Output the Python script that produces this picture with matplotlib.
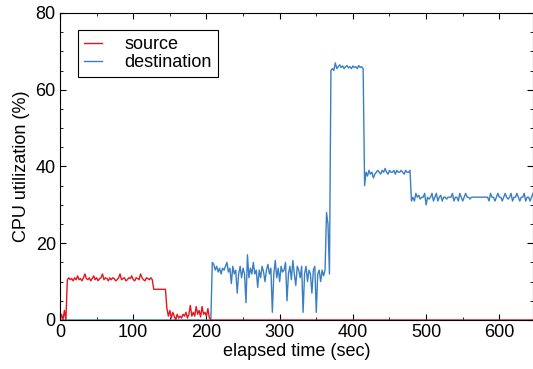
import numpy as np
import matplotlib
matplotlib.use("Agg")
import matplotlib.pyplot as plt
from matplotlib.ticker import MultipleLocator

plt.rcParams['font.family'] = ['Liberation Sans', 'DejaVu Sans']
plt.rcParams['font.size'] = 13

SAMPLE_SEC = 2  # one sample every 2 seconds

# source host CPU (%)
source_cpu = (
    [0, 1.5, 0, 2.5, 0]
    + [10.5, 11, 10.5, 10.8, 10.2, 11, 10.5, 11.5, 10.5, 10.8, 10.2, 11, 12, 10.8, 10.5,
       11, 10.2, 10.8, 11.5, 10.5, 11, 10.2, 10.8, 11, 12, 10.5, 11, 10.8, 10.2, 11,
       10.5, 11, 10.8, 10.2, 10.5, 11, 12, 10.5, 10.8, 11, 10.2, 10.5, 11, 10.8, 11.5,
       10.5, 10.2, 11, 10.8, 10.5, 12, 11, 10.5, 10.2, 11, 10.8, 10.5, 11, 10.5]
    + [8, 8, 8, 8, 8, 8, 8, 8, 8]
    + [3, 1, 2.5, 0.5, 2, 1, 0, 1.5, 0.5, 1, 0.5, 1.5, 1, 2, 0.5, 1.5, 3.8, 1, 2, 1,
       3.5, 1.5, 2.5, 0.8, 3.5, 1.5, 2, 1, 3, 0.5]
    + [0] * 221
)

# destination host CPU (%)
dest_cpu = (
    [0] * 104
    + [15, 14.5, 13, 14, 12.5, 13.5, 12, 13.5, 13, 14, 15, 12.5, 13.5, 9.5, 14, 12, 13, 7,
       12, 14, 11, 13.5, 12, 4.5, 17, 11, 13.5, 12, 15, 12, 13, 8.5, 13, 11, 14, 12.5,
       10, 13, 14.5, 12, 13.5, 2, 12, 15.5, 11, 13.5, 10, 14, 12.5, 13, 15, 5, 12, 14,
       10.5, 15.5, 12, 9, 14, 13, 11, 14, 2, 12, 14, 10, 13, 12, 7, 13, 14, 2, 12, 13,
       10, 13, 11.5, 13]
    + [28, 25, 12]
    + [65, 65.5, 65, 67, 65.5, 66, 66.5, 65.8, 66.2, 65.5, 66, 66.3, 65.7, 66, 65.5,
       66.2, 65.8, 66, 65.5, 66.3, 65.8, 66, 65.5]
    + [35]
    + [38.5, 37.5, 39, 38, 38.5, 37, 38, 38.5, 39, 38.5, 38, 39, 38.5, 39.5, 38.5, 38,
       39, 38.5, 38.5, 39, 38, 39, 38.5, 38.5, 39, 38.5, 38, 39, 38.5, 38.5, 39]
    + [31, 32, 31, 33, 32, 32.5, 31.5, 32, 32, 33, 30, 32, 31.5, 32, 33, 31, 32, 33, 31,
       32, 32.5, 31, 32, 32, 31.5, 32, 32, 32, 33, 31, 32, 32, 31, 33, 32, 31, 32, 33,
       32, 32, 31.5, 32, 32, 32, 32, 32, 32, 32, 32, 32, 32, 32, 32, 31, 33, 32, 32, 31,
       32, 33, 32, 32, 31, 32, 33, 32, 31.5, 32, 33, 31, 32, 32, 33, 32, 31, 32, 32, 33,
       31, 32, 32, 31, 32, 33]
)

t_src = np.arange(len(source_cpu)) * SAMPLE_SEC
t_dst = np.arange(len(dest_cpu)) * SAMPLE_SEC

fig = plt.figure(figsize=(5.33, 3.69), dpi=100)
ax = fig.add_axes([0.1126, 0.1328, 0.8874, 0.832])

ax.plot(t_dst, dest_cpu, color='#3a7fc1', lw=1.0, label='destination')
ax.plot(t_src, source_cpu, color='#e8141c', lw=1.0, label='source')

ax.set_xlim(0, 646)
ax.set_ylim(0, 80)
ax.xaxis.set_major_locator(MultipleLocator(100))
ax.xaxis.set_minor_locator(MultipleLocator(50))
ax.yaxis.set_major_locator(MultipleLocator(20))
ax.yaxis.set_minor_locator(MultipleLocator(5))
ax.tick_params(which='both', direction='in', top=True, right=True)
ax.tick_params(which='major', length=4, width=0.8, pad=3)
ax.tick_params(which='minor', length=2.5, width=0.6)
ax.tick_params(axis='both', labelsize=13)

ax.set_xlabel('elapsed time (sec)', labelpad=1)
ax.set_ylabel('CPU utilization (%)', labelpad=4)

handles, labels = ax.get_legend_handles_labels()
leg = ax.legend(handles[::-1], labels[::-1], loc='upper left',
                bbox_to_anchor=(0.038, 0.945), borderaxespad=0, fancybox=False,
                edgecolor='black', handlelength=1.0, handletextpad=1.2,
                borderpad=0.35, labelspacing=0.05, framealpha=1)
leg.get_frame().set_linewidth(0.8)

fig.savefig('out.png', dpi=100)
